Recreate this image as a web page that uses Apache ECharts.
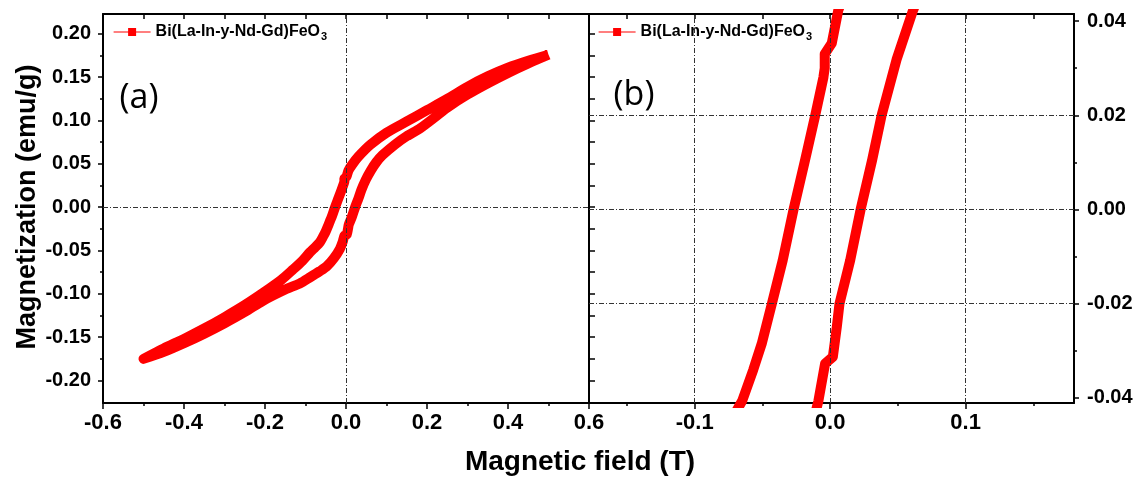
<!DOCTYPE html>
<html>
<head>
<meta charset="utf-8">
<script src="https://cdn.jsdelivr.net/npm/echarts@6/dist/echarts.min.js"></script>
<style>
html,body{margin:0;padding:0;background:#fff;}
#chart{width:1137px;height:480px;}
</style>
</head>
<body>
<div id="chart"></div>
<script>
// ---------- data ----------
const seriesName = 'Bi(La-In-y-Nd-Gd)FeO3';

// descending-field branch (upper branch): field (T) and magnetization (emu/g)
const descField = [0.50,0.45,0.40,0.35,0.30,0.25,0.20,0.15,0.10,0.06,0.03,0.015,0.006,0.0012,-0.004,-0.004,-0.005,-0.011,-0.0185,-0.027,-0.035,-0.043,-0.0505,-0.0567,-0.065,-0.076,-0.089,-0.108,-0.131,-0.16,-0.205,-0.25,-0.30,-0.35,-0.40,-0.45,-0.50];
const descMag   = [0.176,0.169,0.161,0.151,0.139,0.125,0.112,0.099,0.086,0.072,0.058,0.049,0.0423,0.0353,0.033,0.030,0.028,0.020,0.0105,0.0,-0.0108,-0.020,-0.0285,-0.034,-0.0407,-0.0462,-0.052,-0.062,-0.072,-0.084,-0.099,-0.113,-0.127,-0.140,-0.152,-0.163,-0.175];

// ascending-field branch (lower branch)
const ascField = [-0.50,-0.45,-0.40,-0.35,-0.30,-0.25,-0.205,-0.15,-0.114,-0.089,-0.065,-0.048,-0.03,-0.015,-0.0087,-0.0037,0.002,0.0049,0.0069,0.0148,0.0225,0.031,0.038,0.049,0.0612,0.075,0.09,0.12,0.15,0.183,0.22,0.25,0.30,0.35,0.40,0.45,0.50];
const ascMag   = [-0.175,-0.167,-0.157,-0.146,-0.134,-0.121,-0.108,-0.095,-0.088,-0.081,-0.074,-0.0685,-0.059,-0.048,-0.0407,-0.0327,-0.0313,-0.025,-0.020,-0.0108,0.0,0.0105,0.020,0.0318,0.0423,0.052,0.060,0.072,0.082,0.091,0.104,0.115,0.130,0.143,0.155,0.166,0.176];

// tick values
const xTicksA = [-0.6,-0.4,-0.2,0,0.2,0.4,0.6];
const xMinorA = [-0.5,-0.3,-0.1,0.1,0.3,0.5];
const yTicksA = [-0.2,-0.15,-0.1,-0.05,0,0.05,0.1,0.15,0.2];
const yMinorA = [-0.175,-0.125,-0.075,-0.025,0.025,0.075,0.125,0.175];
const xTicksB = [-0.1,0,0.1];
const xMinorB = [-0.15,-0.05,0.05,0.15];
const yTicksB = [-0.04,-0.02,0,0.02,0.04];
const yMinorB = [-0.03,-0.01,0.01,0.03];
// reference lines
const refXA = [0];
const refYA = [0];
const refXB = [-0.1,0,0.1];
const refYB = [-0.02,0,0.02];

// ---------- build ----------
const loop = [];
descField.forEach((x,i)=>loop.push([x, descMag[i]]));
ascField.forEach((x,i)=>loop.push([x, ascMag[i]]));

const FONT = "'Liberation Sans', Arial, sans-serif";
const rangeA = {x:[-0.6,0.6], y:[-0.226,0.223]};
const rangeB = {x:[-0.178,0.180], y:[-0.0411,0.0415]};

function ax(gridIndex, position, range, o){
  return {
    type:'value', gridIndex, position, min:range[0], max:range[1],
    splitLine:{show:false},
    axisLine:{show:!!o.line, onZero:false, lineStyle:{color:'#000', width:2}},
    axisTick:{show:!!o.ticks, inside:!!o.inside, length:o.len||5, customValues:o.ticks||[], lineStyle:{color:'#000', width:1.5}},
    axisLabel:{show:!!o.labels, customValues:o.labels||[], formatter:o.fmt, margin:o.margin||8,
      color:'#000', fontWeight:'bold', fontSize:o.fs||20, fontFamily:FONT},
    minorTick:{show:false}
  };
}

const fmt1 = v => (Math.abs(v)<1e-9 ? 0 : v).toFixed(1);
const fmt2 = v => (Math.abs(v)<1e-9 ? 0 : v).toFixed(2);

function loopSeries(xi, yi, refX, refY, smooth){
  return {
    name:seriesName, type:'line', xAxisIndex:xi, yAxisIndex:yi, data:loop,
    symbol:'rect', symbolSize:9, showSymbol:false, smooth:smooth, clip:true,
    lineStyle:{color:'#ff0000', width:10, join:'round'}, itemStyle:{color:'#ff0000'},
    markLine:{
      silent:true, symbol:['none','none'], label:{show:false}, animation:false,
      lineStyle:{color:'#333', width:1, type:[5,2,1,2]},
      data: refX.map(v=>({xAxis:v})).concat(refY.map(v=>({yAxis:v})))
    }
  };
}

const option = {
  animation:false,
  backgroundColor:'#fff',
  grid:[
    {left:103, top:14, width:486, height:389},
    {left:589, top:14, width:485, height:389}
  ],
  xAxis:[
    ax(0,'bottom',rangeA.x,{line:true, ticks:xTicksA, len:6, labels:xTicksA, fmt:fmt1, fs:22, margin:9}),
    ax(0,'bottom',rangeA.x,{ticks:xMinorA, len:3}),
    ax(0,'top',rangeA.x,{line:true, ticks:xTicksA.concat(xMinorA), inside:true, len:5}),
    ax(1,'bottom',rangeB.x,{line:true, ticks:xTicksB, len:6, labels:xTicksB, fmt:fmt1, fs:22, margin:9}),
    ax(1,'bottom',rangeB.x,{ticks:xMinorB, len:3}),
    ax(1,'top',rangeB.x,{line:true, ticks:xTicksB.concat(xMinorB), inside:true, len:5})
  ],
  yAxis:[
    ax(0,'left',rangeA.y,{line:true, ticks:yTicksA, len:5, labels:yTicksA, fmt:fmt2, fs:20, margin:12}),
    ax(0,'left',rangeA.y,{ticks:yMinorA, len:3}),
    ax(0,'right',rangeA.y,{line:true, ticks:yTicksA.concat(yMinorA), len:6}),
    ax(1,'right',rangeB.y,{line:true, ticks:yTicksB, len:5, labels:yTicksB, fmt:fmt2, fs:20, margin:13}),
    ax(1,'right',rangeB.y,{ticks:yMinorB, len:3}),
    ax(1,'left',rangeB.y,{line:true})
  ],
  legend:[0,1].map(i=>({
    data:[seriesName], left: i===0?113:598, top:22, padding:0,
    itemWidth:37, itemHeight:10, itemGap:5,
    lineStyle:{width:1.2, color:'#ff0000'},
    itemStyle:{color:'#ff0000'},
    formatter: () => '{b|Bi(La-In-y-Nd-Gd)FeO}{s|3}',
    textStyle:{
      rich:{
        b:{fontSize:16, fontWeight:'bold', fontFamily:FONT, color:'#000', lineHeight:20},
        s:{fontSize:11, fontWeight:'bold', fontFamily:FONT, color:'#000', lineHeight:11, padding:[9,0,0,1]}
      }
    }
  })),
  series:[
    loopSeries(0, 0, refXA, refYA, 0.25),
    loopSeries(3, 3, refXB, refYB, false)
  ],
  graphic:[
    {type:'text', x:580, y:462, style:{text:'Magnetic field (T)', font:"bold 28px 'Liberation Sans', Arial, sans-serif", fill:'#000', align:'center', verticalAlign:'middle'}},
    {type:'text', x:28, y:207, rotation:Math.PI/2, style:{text:'Magnetization (emu/g)', font:"bold 27px 'Liberation Sans', Arial, sans-serif", fill:'#000', align:'center', verticalAlign:'middle'}},
    {type:'text', x:139, y:98, style:{text:'(a)', font:"34px 'Open Sans', 'Noto Sans', sans-serif", fill:'#000', align:'center', verticalAlign:'middle'}},
    {type:'text', x:634, y:95, style:{text:'(b)', font:"34px 'Open Sans', 'Noto Sans', sans-serif", fill:'#000', align:'center', verticalAlign:'middle'}}
  ]
};

const chart = echarts.init(document.getElementById('chart'), null, {renderer:'canvas'});
chart.setOption(option);
</script>
</body>
</html>
